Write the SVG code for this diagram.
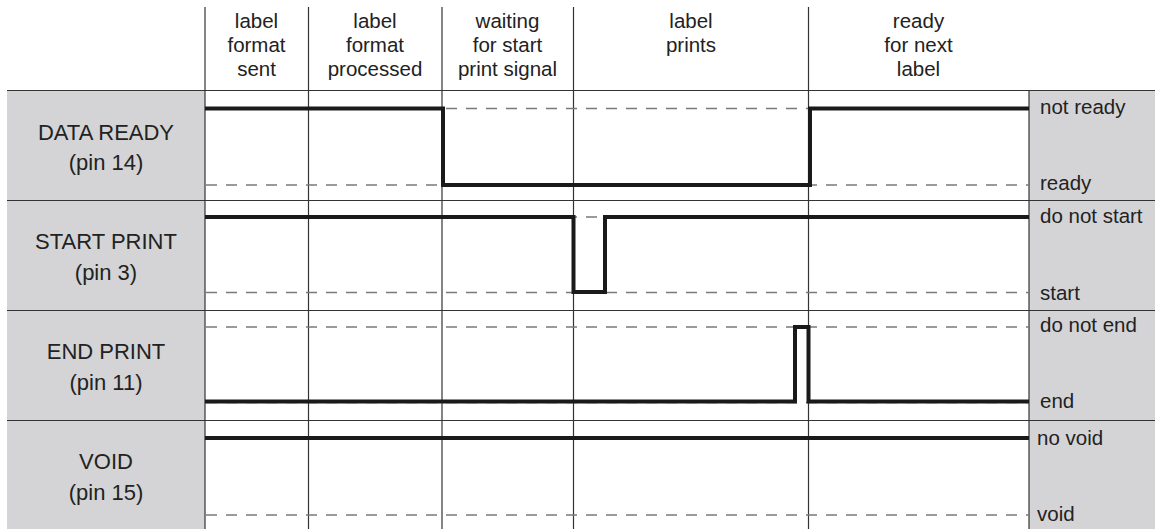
<svg xmlns="http://www.w3.org/2000/svg" width="1155" height="529" viewBox="0 0 1155 529">
<style>
text{font-family:"Liberation Sans",Arial,sans-serif;fill:#222}
.hd{font-size:20.5px;text-anchor:middle}
.lb{font-size:22px;text-anchor:middle}
.rl{font-size:20.5px}
.grid{stroke:#333;stroke-width:1.2;fill:none}
.dash{stroke:#7a7a7a;stroke-width:1.4;stroke-dasharray:11 9;fill:none}
.sig{stroke:#1a1a1a;stroke-width:4;fill:none;stroke-linejoin:miter;stroke-linecap:butt}
.panel{fill:#d4d4d6}
</style>
<rect width="1155" height="529" fill="#fff"/>
<g id="panels">
<rect class="panel" x="7" y="90.5" width="198" height="439"/>
<rect class="panel" x="1029" y="90.5" width="126" height="439"/>
</g>
<g id="grid">
<line class="grid" x1="7" y1="90.5" x2="1155" y2="90.5"/>
<line class="grid" x1="7" y1="200.5" x2="1155" y2="200.5"/>
<line class="grid" x1="7" y1="310.5" x2="1155" y2="310.5"/>
<line class="grid" x1="7" y1="420.5" x2="1155" y2="420.5"/>
<line class="grid" x1="205" y1="7" x2="205" y2="529"/>
<line class="grid" x1="308.5" y1="7" x2="308.5" y2="529"/>
<line class="grid" x1="442" y1="7" x2="442" y2="529"/>
<line class="grid" x1="573.5" y1="7" x2="573.5" y2="529"/>
<line class="grid" x1="808.5" y1="7" x2="808.5" y2="529"/>
<line class="grid" x1="1029" y1="90.5" x2="1029" y2="529"/>
</g>
<g id="headers">
<text class="hd" x="256.5" y="28">label</text>
<text class="hd" x="256.5" y="52">format</text>
<text class="hd" x="256.5" y="76">sent</text>
<text class="hd" x="375" y="28">label</text>
<text class="hd" x="375" y="52">format</text>
<text class="hd" x="375" y="76">processed</text>
<text class="hd" x="507.5" y="28">waiting</text>
<text class="hd" x="507.5" y="52">for start</text>
<text class="hd" x="507.5" y="76">print signal</text>
<text class="hd" x="691" y="28">label</text>
<text class="hd" x="691" y="52">prints</text>
<text class="hd" x="918.5" y="28">ready</text>
<text class="hd" x="918.5" y="52">for next</text>
<text class="hd" x="918.5" y="76">label</text>
</g>
<g id="data-ready">
<text class="lb" x="106" y="140">DATA READY</text>
<text class="lb" x="106" y="170">(pin 14)</text>
<text class="rl" x="1040" y="114">not ready</text>
<text class="rl" x="1040" y="190">ready</text>
</g>
<g id="start-print">
<text class="lb" x="106" y="249">START PRINT</text>
<text class="lb" x="106" y="280">(pin 3)</text>
<text class="rl" x="1040" y="223">do not start</text>
<text class="rl" x="1040" y="300">start</text>
</g>
<g id="end-print">
<text class="lb" x="106" y="359">END PRINT</text>
<text class="lb" x="106" y="390">(pin 11)</text>
<text class="rl" x="1040" y="332">do not end</text>
<text class="rl" x="1040" y="408">end</text>
</g>
<g id="void">
<text class="lb" x="106" y="469">VOID</text>
<text class="lb" x="106" y="500">(pin 15)</text>
<text class="rl" x="1037" y="445">no void</text>
<text class="rl" x="1037" y="521">void</text>
</g>
<g id="levels">
<line class="dash" x1="206" y1="108.5" x2="1029" y2="108.5"/>
<line class="dash" x1="206" y1="185" x2="1029" y2="185"/>
<line class="dash" x1="206" y1="217" x2="1029" y2="217"/>
<line class="dash" x1="206" y1="292.5" x2="1029" y2="292.5"/>
<line class="dash" x1="206" y1="327" x2="1029" y2="327"/>
<line class="dash" x1="206" y1="402.5" x2="1029" y2="402.5"/>
<line class="dash" x1="206" y1="438" x2="1029" y2="438"/>
<line class="dash" x1="206" y1="515" x2="1029" y2="515"/>
</g>
<g id="connectors">
<path class="sig" d="M205,108.5 H443 V185 H810 V108.5 H1029"/>
<path class="sig" d="M205,217 H573.5 V292 H605 V217 H1029"/>
<path class="sig" d="M205,401.5 H795 V327 H808.5 V401.5 H1029"/>
<path class="sig" d="M205,438 H1029"/>
</g>
</svg>
